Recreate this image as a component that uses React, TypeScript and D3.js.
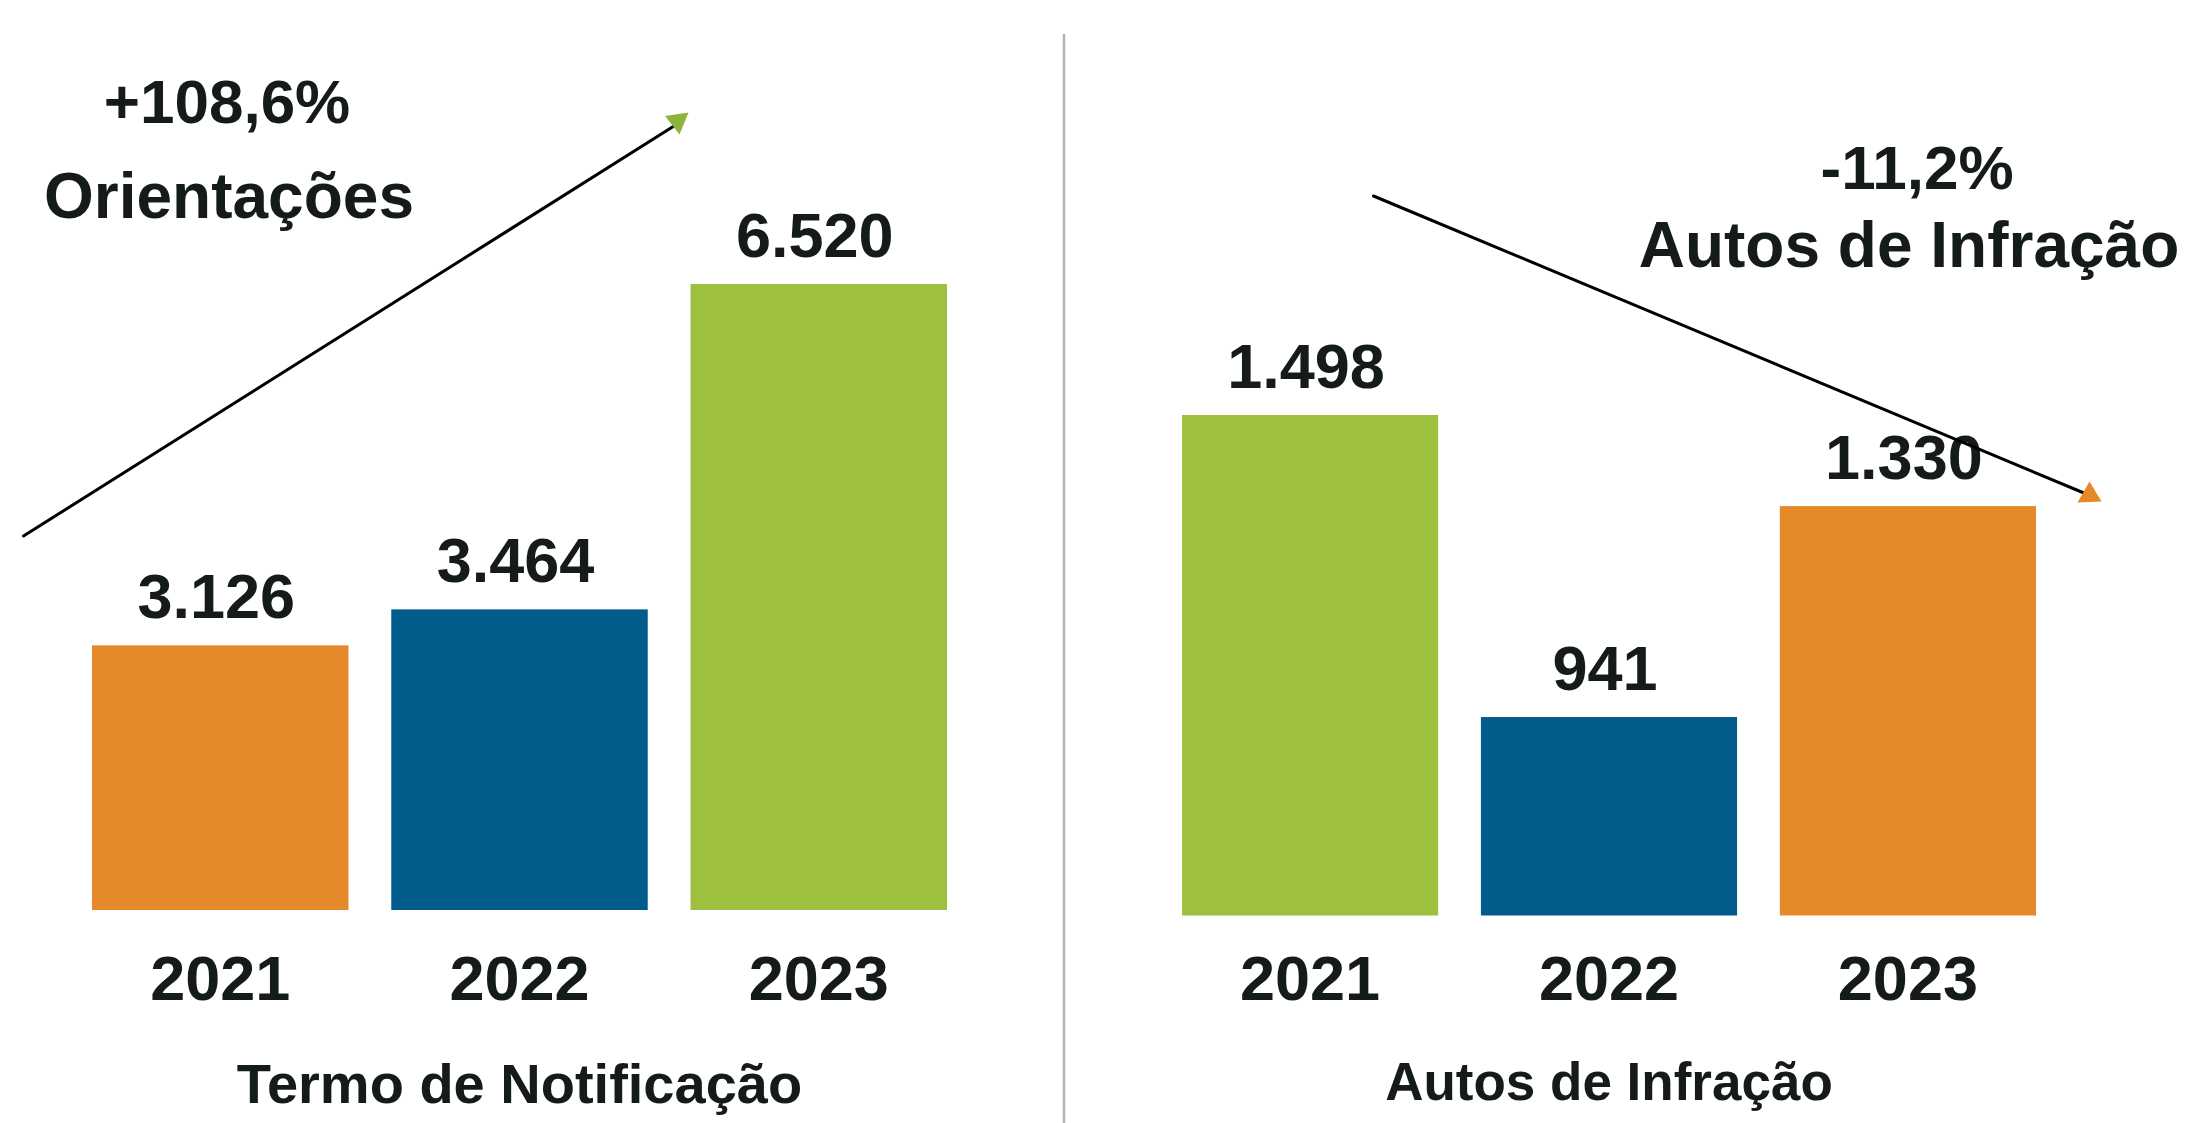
import React from "react";
import * as d3 from "d3";

// ---------- data ----------
const years = ["2021", "2022", "2023"];
const termoValues = [3126, 3464, 6520];
const autosValues = [1498, 941, 1330];
const termoColors = ["#E5892A", "#025C8B", "#9DC03F"];
const autosColors = ["#9DC03F", "#025C8B", "#E5892A"];
const termoTitle = "Termo de Notificação";
const autosTitle = "Autos de Infração";
const termoChange = "+108,6%";
const termoChangeLabel = "Orientações";
const autosChange = "-11,2%";
const autosChangeLabel = "Autos de Infração";

// ---------- layout ----------
const W = 2185;
const H = 1123;
const FONT = "'Liberation Sans', Arial, Helvetica, sans-serif";
const TEXT = "#151b1b";
const fmt = (v: number) => d3.format(",")(v).replace(/,/g, ".");

type PanelProps = {
  values: number[];
  colors: string[];
  x0: number;
  x1: number;
  baseline: number;
  top: number;
  domainMin: number;
  title: string;
  titleY: number;
  titleSize: number;
};

function Panel({ values, colors, x0, x1, baseline, top, domainMin, title, titleY, titleSize }: PanelProps) {
  const x = d3.scaleBand<string>().domain(years).range([x0, x1]).paddingInner(0.143).paddingOuter(0);
  const y = d3
    .scaleLinear()
    .domain([domainMin, d3.max(values) as number])
    .range([baseline, top]);
  const bw = x.bandwidth();
  return (
    <g>
      {years.map((yr, i) => {
        const bx = x(yr) as number;
        const by = y(values[i]);
        return (
          <g key={yr}>
            <rect x={bx} y={by} width={bw} height={baseline - by} fill={colors[i]} />
            <text
              x={bx + bw / 2 - 4}
              y={by - 27}
              textAnchor="middle"
              fontFamily={FONT}
              fontWeight={700}
              fontSize={63}
              fill={TEXT}
            >
              {fmt(values[i])}
            </text>
            <text
              x={bx + bw / 2}
              y={1000}
              textAnchor="middle"
              fontFamily={FONT}
              fontWeight={700}
              fontSize={63}
              fill={TEXT}
            >
              {yr}
            </text>
          </g>
        );
      })}
      <text
        x={(x0 + x1) / 2}
        y={titleY}
        textAnchor="middle"
        fontFamily={FONT}
        fontWeight={700}
        fontSize={titleSize}
        fill={TEXT}
      >
        {title}
      </text>
    </g>
  );
}

export default function App() {
  return (
    <div style={{ position: "absolute", left: 0, top: 0, width: W, height: H, background: "#fff" }}>
      <svg width={W} height={H} viewBox={`0 0 ${W} ${H}`} style={{ display: "block" }}>
        <rect width={W} height={H} fill="#ffffff" />
        {/* divider */}
        <line x1={1064} y1={34} x2={1064} y2={H} stroke="#b3b3b3" strokeWidth={2.5} />

        <Panel
          values={termoValues}
          colors={termoColors}
          x0={92}
          x1={947}
          baseline={910}
          top={284}
          domainMin={640}
          title={termoTitle}
          titleY={1103}
          titleSize={56}
        />
        <Panel
          values={autosValues}
          colors={autosColors}
          x0={1182}
          x1={2036}
          baseline={915.5}
          top={415}
          domainMin={575}
          title={autosTitle}
          titleY={1100}
          titleSize={53}
        />

        {/* left trend arrow */}
        <line x1={23.5} y1={536} x2={674} y2={126} stroke="#000" strokeWidth={3} strokeLinecap="round" />
        <polygon points="665,116 688.5,112.5 679.5,134.5" fill="#8DB43C" />
        <text x={227} y={123} textAnchor="middle" fontFamily={FONT} fontWeight={700} fontSize={62} fill={TEXT}>
          {termoChange}
        </text>
        <text x={229} y={218} textAnchor="middle" fontFamily={FONT} fontWeight={700} fontSize={64} fill={TEXT}>
          {termoChangeLabel}
        </text>

        {/* right trend arrow */}
        <line x1={1373.5} y1={196} x2={2084} y2={493} stroke="#000" strokeWidth={3} strokeLinecap="round" />
        <polygon points="2089.5,481.5 2077.5,502.5 2101.5,501.5" fill="#E5892A" />
        <text x={1917} y={189} textAnchor="middle" fontFamily={FONT} fontWeight={700} fontSize={62} fill={TEXT}>
          {autosChange}
        </text>
        <text x={1909} y={267} textAnchor="middle" fontFamily={FONT} fontWeight={700} fontSize={64} fill={TEXT}>
          {autosChangeLabel}
        </text>
      </svg>
    </div>
  );
}
